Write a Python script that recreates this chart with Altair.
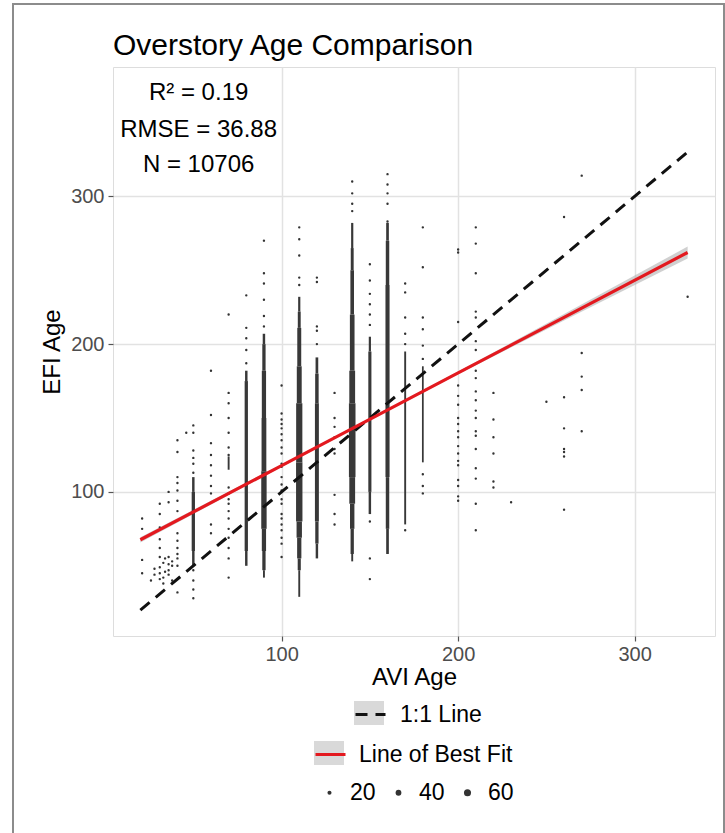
import altair as alt
import pandas as pd

FONT = "Liberation Sans"

# ---------------- text ----------------
title_text = "Overstory Age Comparison"
x_title = "AVI Age"
y_title = "EFI Age"
ann_text = ["R² = 0.19", "RMSE = 36.88", "N = 10706"]
ann_x = [53, 53, 53]
ann_y = [370, 345, 321]
tick_values = [100, 200, 300]

# ---------------- lines ----------------
line11_label = "1:1 Line"
line11_x = [20, 330]
line11_y = [20, 330]

fit_label = "Line of Best Fit"
fit_x = [20, 100, 148, 200, 260, 330]
fit_y = [67.6, 117.8, 147.9, 180.5, 218.1, 262.0]
fit_lo = [65.8, 117.0, 147.3, 179.6, 215.9, 258.0]
fit_hi = [69.4, 118.6, 148.5, 181.4, 220.3, 266.0]

# ---------------- dense column cores (AVI age, EFI from, EFI to, point size n) ----------------
seg_x = [50, 50, 50,
         70,
         80, 80, 80,
         90, 90, 90, 90, 90, 90, 90, 90,
         110, 110, 110, 110, 110, 110, 110, 110, 110, 110,
         120, 120, 120, 120, 120,
         140, 140, 140, 140, 140, 140, 140, 140, 140, 140,
         150, 150, 150,
         160, 160, 160, 160, 160,
         170, 180]
seg_lo = [100, 60, 50,
          115,
          50, 60, 175,
          200, 182, 150, 114, 75, 60, 47, 42,
          222, 211, 185, 160, 120, 80, 69, 55, 47, 29,
          180, 160, 80, 65, 55,
          265, 250, 220, 182, 160, 110, 92, 75, 58, 53,
          195, 100, 85,
          270, 240, 110, 75, 58,
          78, 120]
seg_hi = [110, 100, 60,
          124,
          60, 175, 182,
          207, 200, 182, 150, 114, 75, 60, 47,
          232, 222, 211, 185, 160, 120, 80, 69, 55, 47,
          191, 180, 160, 80, 65,
          282, 265, 250, 220, 182, 160, 110, 92, 75, 58,
          205, 195, 100,
          282, 270, 240, 110, 75,
          195, 185]
seg_n = [5, 9, 5,
         3,
         5, 9, 5,
         5, 9, 15, 19, 24, 15, 9, 3,
         4, 7, 13, 20, 32, 34, 24, 15, 8, 3,
         6, 10, 13, 9, 5,
         4, 7, 11, 18, 28, 36, 28, 16, 9, 3,
         4, 8, 5,
         6, 10, 14, 10, 6,
         3, 2.5]

# ---------------- individual points: AVI age -> EFI ages ----------------
sparse_y = {
    21: [82, 75, 54, 45],
    26: [40],
    28: [44, 48],
    31: [92, 85, 76, 68, 62, 56, 49, 45, 41],
    33: [38, 42, 52],
    34: [46, 55],
    36: [100, 93, 56, 51, 47, 44],
    38: [40, 50, 53],
    41: [135, 127, 110, 106, 101, 94, 87, 72, 67, 62, 58, 55, 50, 32],
    46: [140],
    50: [145, 140, 128, 123, 119, 113, 47, 40, 34, 28],
    60: [182, 152, 133, 125, 118, 111, 104, 99, 78, 72],
    70: [220, 167, 160, 150, 140, 130, 125, 103, 99, 95, 92, 87, 82, 75, 69, 62, 55, 42],
    80: [233, 211, 204, 196, 187],
    90: [270, 248, 241, 230, 219, 212],
    100: [172, 153, 149, 146, 143, 139, 135, 130, 126, 119, 117, 110, 105, 101,
          95, 92, 85, 82, 78, 74, 69, 65, 56],
    110: [279, 271, 260, 245, 240],
    120: [245, 242, 212, 209, 200],
    130: [167, 150, 144, 137, 129, 126, 98, 85, 78],
    140: [310, 302, 295, 290],
    150: [254, 243, 234, 227, 220, 213, 80, 55, 41],
    160: [315, 308, 302, 295, 283],
    170: [241, 235, 218, 207, 200, 74],
    180: [279, 252, 218, 210, 199, 190, 112, 104, 99],
    200: [264, 262, 215, 172, 165, 159, 150, 146, 141, 137, 131, 126, 121, 118, 108, 104, 97, 94],
    210: [279, 268, 248, 222, 218, 202, 196, 182, 177, 168, 162, 155, 150, 141, 138,
          129, 116, 109, 92, 74],
    220: [167, 149, 137, 126, 107, 103],
    230: [93],
    250: [161],
    260: [286, 164, 143, 129, 127, 124, 88],
    270: [314, 194, 178, 169, 141],
    330: [232],
}
sparse_n = 7
size_legend_values = [20, 40, 60]

# ---------------- tables ----------------
pts = pd.DataFrame(
    [(x, y, sparse_n) for x, ys in sparse_y.items() for y in ys],
    columns=["avi", "efi", "n"],
)
segs = pd.DataFrame({"avi": seg_x, "lo": seg_lo, "hi": seg_hi, "n": seg_n})
l11 = pd.DataFrame({"avi": line11_x, "efi": line11_y, "lab": [line11_label] * 2})
fit = pd.DataFrame({"avi": fit_x, "efi": fit_y, "lo": fit_lo, "hi": fit_hi,
                    "lab": [fit_label] * len(fit_x)})
ann = pd.DataFrame({"avi": ann_x, "efi": ann_y, "t": ann_text})

W, H = 602, 569
xs = alt.Scale(domain=[4.5, 345.5], nice=False, zero=False)
ys = alt.Scale(domain=[2.5, 387.5], nice=False, zero=False)

axis_common = dict(
    values=tick_values, grid=True, gridColor="#e2e2e2", gridWidth=1.5,
    domain=False, tickColor="#555555", tickSize=5, tickWidth=1.2,
    labelFontSize=20, labelColor="#4d4d4d", labelFont=FONT,
    titleFontSize=24, titleFontWeight="normal", titleColor="#000000", titleFont=FONT,
)
x_enc = alt.X("avi:Q", scale=xs, axis=alt.Axis(title=x_title, labelPadding=3,
                                                 titlePadding=1, **axis_common))
y_enc = alt.Y("efi:Q", scale=ys, axis=alt.Axis(title=y_title, labelPadding=4,
                                                 titlePadding=6, **axis_common))

one = pd.DataFrame({"a": [0]})

frame = alt.Chart(one).mark_rect(fill="transparent", stroke="#8c8c8c", strokeWidth=2).encode(
    x=alt.value(-100), x2=alt.value(611), y=alt.value(-63), y2=alt.value(790)
)
key1 = alt.Chart(one).mark_rect(fill="#d9d9d9").encode(
    x=alt.value(241), x2=alt.value(271), y=alt.value(634), y2=alt.value(658)
)
key2 = alt.Chart(one).mark_rect(fill="#d9d9d9").encode(
    x=alt.value(201), x2=alt.value(231), y=alt.value(674), y2=alt.value(698)
)

band = alt.Chart(fit).mark_area(color="#b0b0b0", opacity=0.6).encode(
    x=x_enc, y=alt.Y("lo:Q", scale=ys), y2="hi:Q"
)

rules = alt.Chart(segs).mark_rule(color="#383838").encode(
    x=x_enc, y=alt.Y("lo:Q", scale=ys), y2="hi:Q",
    size=alt.Size("n:Q", scale=alt.Scale(type="sqrt", domain=[0, 60], range=[0, 8.5]),
                  legend=None),
)

points = alt.Chart(pts).mark_circle(color="#333333", opacity=1).encode(
    x=x_enc, y=y_enc,
    size=alt.Size("n:Q", scale=alt.Scale(domain=[0, 60], range=[0, 50]),
                  legend=alt.Legend(orient="none", direction="horizontal",
                                    legendX=205, legendY=714, title=None,
                                    values=size_legend_values, symbolType="circle",
                                    symbolFillColor="#333333", symbolStrokeWidth=0,
                                    labelFontSize=23, labelFont=FONT, labelColor="#000000",
                                    labelOffset=9, columnPadding=11, padding=0)),
)

l11_layer = alt.Chart(l11).mark_line(color="#111111", strokeWidth=3, strokeCap="butt").encode(
    x=x_enc, y=y_enc,
    strokeDash=alt.StrokeDash(
        "lab:N",
        scale=alt.Scale(domain=[line11_label], range=[[12, 8]]),
        legend=alt.Legend(orient="none", legendX=241, legendY=631, title=None,
                          symbolType="stroke", symbolSize=900, symbolStrokeWidth=3,
                          symbolStrokeColor="#111111",
                          labelFontSize=23, labelFont=FONT, labelColor="#000000",
                          labelOffset=13, padding=0),
    ),
)

fit_layer = alt.Chart(fit).mark_line(strokeWidth=3.2).encode(
    x=x_enc, y=y_enc,
    color=alt.Color(
        "lab:N",
        scale=alt.Scale(domain=[fit_label], range=["#e3191f"]),
        legend=alt.Legend(orient="none", legendX=201, legendY=671, title=None,
                          symbolType="stroke", symbolSize=900, symbolStrokeWidth=3,
                          labelFontSize=23, labelFont=FONT, labelColor="#000000",
                          labelOffset=12, padding=0),
    ),
)

ann_layer = alt.Chart(ann).mark_text(fontSize=24, font=FONT, color="#000000",
                                     align="center", baseline="middle").encode(
    x=alt.X("avi:Q", scale=xs), y=alt.Y("efi:Q", scale=ys), text="t:N"
)

title_layer = alt.Chart(pd.DataFrame({"t": [title_text]})).mark_text(
    fontSize=30, font=FONT, color="#000000", align="left", baseline="alphabetic"
).encode(x=alt.value(0), y=alt.value(-12), text="t:N")

chart = alt.layer(
    frame, key1, key2, band, rules, points, l11_layer, fit_layer, ann_layer, title_layer
).resolve_scale(size="independent").properties(
    width=W, height=H,
    autosize=alt.AutoSizeParams(type="none"),
    padding={"left": 113, "top": 67, "right": 10, "bottom": 197},
    background="#ffffff",
).configure_view(
    fill="#f8f8f8", stroke="#555555", strokeWidth=1.5
).configure(font=FONT)

chart.save("out.html", embed_options={"renderer": "svg", "actions": False})
